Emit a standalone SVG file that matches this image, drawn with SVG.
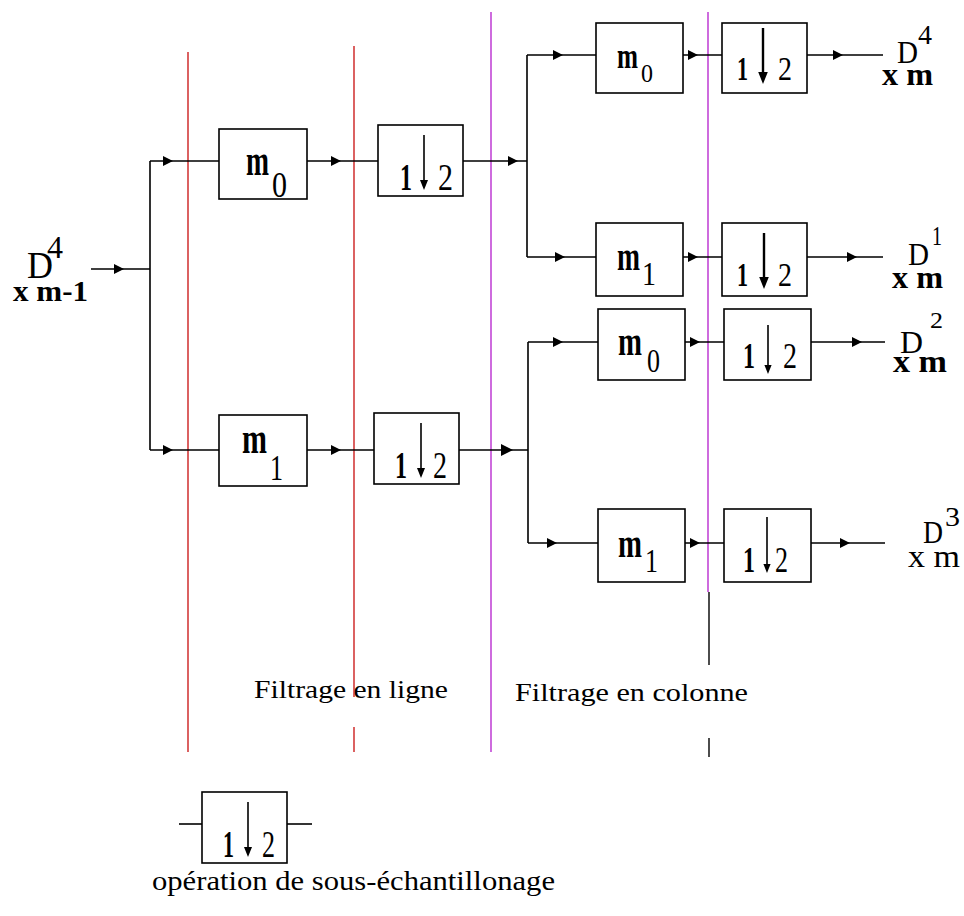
<svg xmlns="http://www.w3.org/2000/svg" xmlns:xlink="http://www.w3.org/1999/xlink" width="964" height="916" viewBox="0 0 964 916" font-family="'Liberation Serif', 'Times New Roman', serif">
<style>
.box{fill:#fff;stroke:#000;stroke-width:1.6}
.ln{fill:none;stroke:#000;stroke-width:1.6}
.red{stroke:#d23a3a;stroke-width:1.6;fill:none}
.mag{stroke:#c247d6;stroke-width:1.6;fill:none}
.blk{stroke:#000;stroke-width:1.4;fill:none}
text{font-family:"Liberation Serif","Times New Roman",serif;fill:#000}
.m{font-size:44px;font-weight:bold}
.m2{font-size:40px;font-weight:bold}
.sub{font-size:35px;font-weight:normal}
.one{font-size:38px;font-weight:bold}
.two{font-size:38px;font-weight:normal}
.D{font-size:32px}
.sup{font-size:27px}
.xm{font-size:34px;font-weight:bold}
.cap{font-size:26px}
</style>
<defs>
<path id="ar" d="M-10,-5 L0,0 L-10,5 Z" fill="#000"/>
<path id="da" d="M-4,-10 L0,0 L4,-10 Z" fill="#000"/>
</defs>
<rect width="964" height="916" fill="#fff"/>

<g id="dividers">
<line class="red" x1="188" y1="52" x2="188" y2="752"/>
<line class="red" x1="354" y1="46" x2="354" y2="697"/>
<line class="red" x1="354" y1="727" x2="354" y2="752"/>
<line class="mag" x1="491" y1="12" x2="491" y2="752"/>
<line class="mag" x1="708" y1="12" x2="708" y2="592"/>
<line class="blk" x1="709" y1="592" x2="709" y2="665"/>
<line class="blk" x1="709" y1="738" x2="709" y2="757"/>
</g>

<g id="connectors">
<path class="ln" d="M91,269 H150 M150,161 V450 M150,161 H219 M150,450 H219"/>
<path class="ln" d="M307,161 H378 M307,450 H374"/>
<path class="ln" d="M463,161 H527 M459,450 H528"/>
<path class="ln" d="M527,55 V257 M527,55 H596 M527,257 H596"/>
<path class="ln" d="M528,342 V543 M528,342 H598 M528,543 H598"/>
<path class="ln" d="M683,55 H722 M683,257 H722 M685,342 H724 M685,543 H724"/>
<path class="ln" d="M807,55 H883 M807,257 H883 M811,342 H885 M811,543 H885"/>
<use xlink:href="#ar" transform="translate(124,269)"/>
<use xlink:href="#ar" transform="translate(173,161)"/>
<use xlink:href="#ar" transform="translate(173,450)"/>
<use xlink:href="#ar" transform="translate(341,161)"/>
<use xlink:href="#ar" transform="translate(341,450)"/>
<use xlink:href="#ar" transform="translate(518,161)"/>
<use xlink:href="#ar" transform="translate(513,450) scale(1.2)"/>
<use xlink:href="#ar" transform="translate(563,55)"/>
<use xlink:href="#ar" transform="translate(565,257)"/>
<use xlink:href="#ar" transform="translate(563,342)"/>
<use xlink:href="#ar" transform="translate(557,543)"/>
<use xlink:href="#ar" transform="translate(698,55)"/>
<use xlink:href="#ar" transform="translate(698,257)"/>
<use xlink:href="#ar" transform="translate(700,342)"/>
<use xlink:href="#ar" transform="translate(700,543)"/>
<use xlink:href="#ar" transform="translate(843,55)"/>
<use xlink:href="#ar" transform="translate(857,257)"/>
<use xlink:href="#ar" transform="translate(862,342)"/>
<use xlink:href="#ar" transform="translate(850,543)"/>
</g>

<g id="input">
<text><tspan class="D" x="27" y="278" style="font-size:38px" textLength="26" lengthAdjust="spacingAndGlyphs">D</tspan><tspan class="sup" x="47" y="258" style="font-size:32px" textLength="16" lengthAdjust="spacingAndGlyphs">4</tspan><tspan class="xm" x="13" y="301" style="font-size:30px" textLength="75" lengthAdjust="spacingAndGlyphs">x m-1</tspan></text>
</g>

<g id="r1_m0">
<rect class="box" x="219" y="129" width="88" height="70"/>
<text><tspan class="m" x="246" y="175" textLength="23" lengthAdjust="spacingAndGlyphs">m</tspan><tspan class="sub" x="272" y="197" textLength="15" lengthAdjust="spacingAndGlyphs">0</tspan></text>
</g>
<g id="r1_ds">
<rect class="box" x="378" y="125" width="85" height="71"/>
<text><tspan class="one" x="400" y="190" textLength="12" lengthAdjust="spacingAndGlyphs">1</tspan><tspan class="two" x="438" y="190" textLength="15" lengthAdjust="spacingAndGlyphs">2</tspan></text>
<line class="ln" x1="424" y1="135" x2="424" y2="184"/>
<use xlink:href="#da" transform="translate(424,190)"/>
</g>
<g id="r2_m1">
<rect class="box" x="219" y="415" width="88" height="71"/>
<text><tspan class="m" x="242" y="453" textLength="25" lengthAdjust="spacingAndGlyphs">m</tspan><tspan class="sub" x="270" y="480" textLength="13" lengthAdjust="spacingAndGlyphs">1</tspan></text>
</g>
<g id="r2_ds">
<rect class="box" x="374" y="413" width="85" height="71"/>
<text><tspan class="one" x="395" y="478" textLength="12" lengthAdjust="spacingAndGlyphs">1</tspan><tspan class="two" x="433" y="478" textLength="14" lengthAdjust="spacingAndGlyphs">2</tspan></text>
<line class="ln" x1="421" y1="423" x2="421" y2="472"/>
<use xlink:href="#da" transform="translate(421,478)"/>
</g>

<g id="c1_m0">
<rect class="box" x="596" y="23" width="87" height="70"/>
<text><tspan class="m2" x="617" y="68" style="font-size:36px" textLength="21" lengthAdjust="spacingAndGlyphs">m</tspan><tspan class="sub" x="641" y="82" style="font-size:26px" textLength="12" lengthAdjust="spacingAndGlyphs">0</tspan></text>
</g>
<g id="c1_ds">
<rect class="box" x="722" y="23" width="85" height="70"/>
<text><tspan class="one" x="737" y="80" style="font-size:34px" textLength="11" lengthAdjust="spacingAndGlyphs">1</tspan><tspan class="two" x="778" y="80" style="font-size:34px" textLength="14" lengthAdjust="spacingAndGlyphs">2</tspan></text>
<line class="ln" x1="763" y1="28" x2="763" y2="74" style="stroke-width:2.4"/>
<use xlink:href="#da" transform="translate(763,84) scale(1.2)"/>
</g>
<g id="c2_m1">
<rect class="box" x="596" y="223" width="87" height="73"/>
<text><tspan class="m2" x="617" y="270" textLength="23" lengthAdjust="spacingAndGlyphs">m</tspan><tspan class="sub" x="642" y="285" style="font-size:33px" textLength="14" lengthAdjust="spacingAndGlyphs">1</tspan></text>
</g>
<g id="c2_ds">
<rect class="box" x="722" y="223" width="85" height="73"/>
<text><tspan class="one" x="737" y="286" style="font-size:34px" textLength="11" lengthAdjust="spacingAndGlyphs">1</tspan><tspan class="two" x="778" y="286" style="font-size:34px" textLength="14" lengthAdjust="spacingAndGlyphs">2</tspan></text>
<line class="ln" x1="764" y1="233" x2="764" y2="279" style="stroke-width:2.4"/>
<use xlink:href="#da" transform="translate(764,289) scale(1.2)"/>
</g>
<g id="c3_m0">
<rect class="box" x="598" y="309" width="87" height="71"/>
<text><tspan class="m2" x="618" y="355" textLength="24" lengthAdjust="spacingAndGlyphs">m</tspan><tspan class="sub" x="647" y="372" style="font-size:34px" textLength="13" lengthAdjust="spacingAndGlyphs">0</tspan></text>
</g>
<g id="c3_ds">
<rect class="box" x="724" y="309" width="87" height="71"/>
<text><tspan class="one" x="743" y="368" style="font-size:36px" textLength="12" lengthAdjust="spacingAndGlyphs">1</tspan><tspan class="two" x="783" y="368" style="font-size:36px" textLength="14" lengthAdjust="spacingAndGlyphs">2</tspan></text>
<line class="ln" x1="768" y1="325" x2="768" y2="366"/>
<use xlink:href="#da" transform="translate(768,374) scale(0.9)"/>
</g>
<g id="c4_m1">
<rect class="box" x="598" y="509" width="87" height="73"/>
<text><tspan class="m2" x="618" y="557" textLength="24" lengthAdjust="spacingAndGlyphs">m</tspan><tspan class="sub" x="645" y="572" style="font-size:33px" textLength="13" lengthAdjust="spacingAndGlyphs">1</tspan></text>
</g>
<g id="c4_ds">
<rect class="box" x="724" y="509" width="87" height="73"/>
<text><tspan class="one" x="743" y="572" style="font-size:36px" textLength="12" lengthAdjust="spacingAndGlyphs">1</tspan><tspan class="two" x="775" y="572" style="font-size:36px" textLength="13" lengthAdjust="spacingAndGlyphs">2</tspan></text>
<line class="ln" x1="767" y1="517" x2="767" y2="566"/>
<use xlink:href="#da" transform="translate(767,573) scale(0.9)"/>
</g>

<g id="out4">
<text><tspan class="D" x="897" y="63" textLength="21" lengthAdjust="spacingAndGlyphs">D</tspan><tspan class="sup" x="918" y="44" textLength="14" lengthAdjust="spacingAndGlyphs">4</tspan><tspan class="xm" x="882" y="85" style="font-size:31px" textLength="51" lengthAdjust="spacingAndGlyphs">x m</tspan></text>
</g>
<g id="out1">
<text><tspan class="D" x="908" y="265" textLength="21" lengthAdjust="spacingAndGlyphs">D</tspan><tspan class="sup" x="932" y="245" textLength="10" lengthAdjust="spacingAndGlyphs">1</tspan><tspan class="xm" x="892" y="288" style="font-size:31px" textLength="51" lengthAdjust="spacingAndGlyphs">x m</tspan></text>
</g>
<g id="out2">
<text><tspan class="D" x="900" y="353" textLength="23" lengthAdjust="spacingAndGlyphs">D</tspan><tspan class="sup" x="930" y="328" style="font-size:23px" textLength="13" lengthAdjust="spacingAndGlyphs">2</tspan><tspan class="xm" x="893" y="372" style="font-size:31px" textLength="54" lengthAdjust="spacingAndGlyphs">x m</tspan></text>
</g>
<g id="out3">
<text><tspan class="D" x="923" y="543" textLength="20" lengthAdjust="spacingAndGlyphs">D</tspan><tspan class="sup" x="945" y="526" textLength="15" lengthAdjust="spacingAndGlyphs">3</tspan><tspan class="xm" x="908" y="567" style="font-size:31px;font-weight:normal" textLength="52" lengthAdjust="spacingAndGlyphs">x m</tspan></text>
</g>

<g id="labels">
<text class="cap" x="254" y="698" textLength="194" lengthAdjust="spacingAndGlyphs">Filtrage  en ligne</text>
<text class="cap" x="515" y="701" textLength="233" lengthAdjust="spacingAndGlyphs">Filtrage en colonne</text>
</g>

<g id="legend">
<line class="ln" x1="179" y1="824" x2="202" y2="824"/>
<line class="ln" x1="287" y1="824" x2="312" y2="824"/>
<rect class="box" x="202" y="792" width="85" height="71"/>
<text><tspan class="one" x="223" y="857" textLength="11" lengthAdjust="spacingAndGlyphs">1</tspan><tspan class="two" x="262" y="857" textLength="13" lengthAdjust="spacingAndGlyphs">2</tspan></text>
<line class="ln" x1="248" y1="802" x2="248" y2="850"/>
<use xlink:href="#da" transform="translate(248,857)"/>
<text x="152" y="890" textLength="403" lengthAdjust="spacingAndGlyphs" style="font-size:27px">opération de sous-échantillonage</text>
</g>
</svg>
